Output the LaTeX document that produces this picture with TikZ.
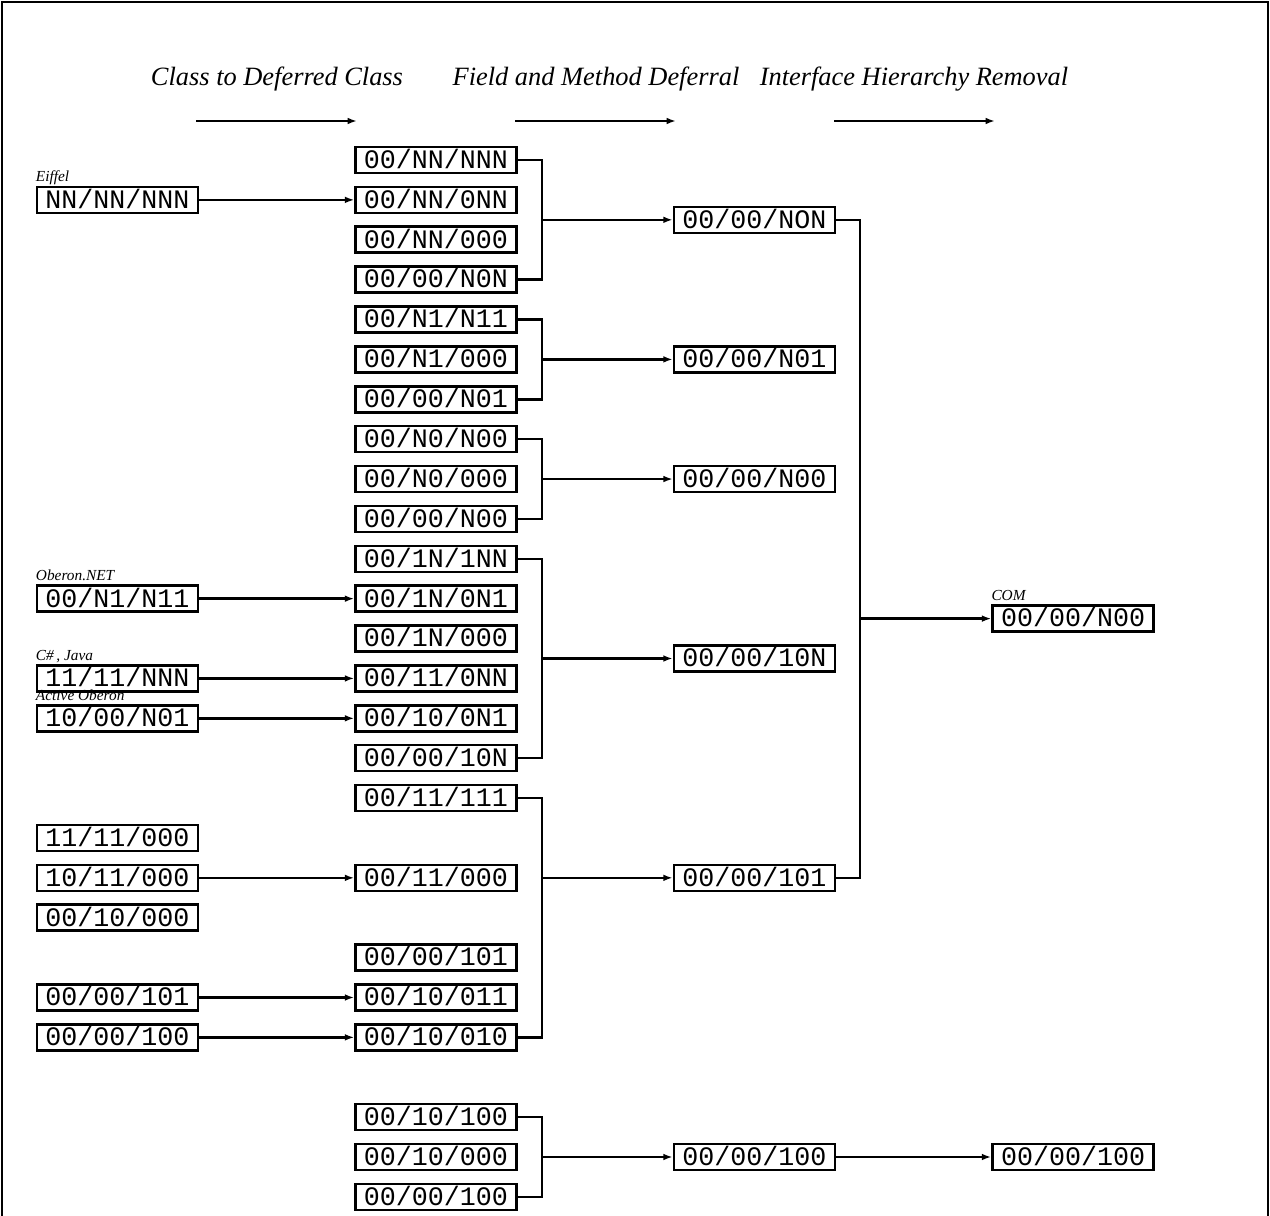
\documentclass[tikz,border=0pt]{standalone}
\usepackage{fontspec}
\setmainfont{Liberation Serif}
\newfontfamily\boxfont{Liberation Mono}
\usetikzlibrary{arrows.meta}
\tikzset{
  x=0.75pt, y=-0.75pt,
  cbox/.style={draw, line width=1.9pt, inner sep=0pt, minimum width=120.75pt, minimum height=19.5pt,
    text height=13pt, text depth=0.5pt,
    font=\boxfont\fontsize{20}{23}\selectfont},
  lab/.style={inner sep=0pt, anchor=base west, font=\itshape\fontsize{11.5}{13}\selectfont},
  head/.style={inner sep=0pt, anchor=base, font=\itshape\fontsize{19.8}{22}\selectfont},
  conn/.style={line width=1.9pt},
  arr/.style={line width=1.9pt, -{Latex[length=7pt,width=5pt]}},
  harr/.style={line width=1.4pt, -{Latex[length=7pt,width=5pt]}},
}
\newcommand{\rowy}[1]{160+39.88*#1}
\begin{document}
\begin{tikzpicture}
\useasboundingbox (0,0) rectangle (1270,1216);
\draw[line width=1.4pt] (2,1216) -- (2,2) -- (1268,2) -- (1268,1216);

% headers
\node[head] (h1) at (277,86) {Class to Deferred Class};
\node[head] (h2) at (596,86) {Field and Method Deferral};
\node[head] (h3) at (914,86) {Interface Hierarchy Removal};
\coordinate (ha1) at (196,121); \coordinate (hb1) at (357,121);
\coordinate (ha2) at (515,121); \coordinate (hb2) at (676,121);
\coordinate (ha3) at (834,121); \coordinate (hb3) at (995,121);
\draw[harr] (ha1) -- (hb1);
\draw[harr] (ha2) -- (hb2);
\draw[harr] (ha3) -- (hb3);

% column B
\foreach \i/\t in {0/{00/NN/NNN}, 1/{00/NN/0NN}, 2/{00/NN/000}, 3/{00/00/N0N},
  4/{00/N1/N11}, 5/{00/N1/000}, 6/{00/00/N01},
  7/{00/N0/N00}, 8/{00/N0/000}, 9/{00/00/N00},
  10/{00/1N/1NN}, 11/{00/1N/0N1}, 12/{00/1N/000}, 13/{00/11/0NN}, 14/{00/10/0N1}, 15/{00/00/10N},
  16/{00/11/111}, 18/{00/11/000}, 20/{00/00/101}, 21/{00/10/011}, 22/{00/10/010},
  24/{00/10/100}, 25/{00/10/000}, 26/{00/00/100}}
  {\node[cbox] (b\i) at (436,{\rowy{\i}}) {\t};}

% column A
\foreach \i/\t in {1/{NN/NN/NNN}, 11/{00/N1/N11}, 13/{11/11/NNN}, 14/{10/00/N01},
  17/{11/11/000}, 18/{10/11/000}, 19/{00/10/000}, 21/{00/00/101}, 22/{00/00/100}}
  {\node[cbox] (a\i) at (117.5,{\rowy{\i}}) {\t};}

% column C
\node[cbox] (c1) at (754.5,{\rowy{1.5}}) {00/00/NON};
\node[cbox] (c2) at (754.5,{\rowy{5}}) {00/00/N01};
\node[cbox] (c3) at (754.5,{\rowy{8}}) {00/00/N00};
\node[cbox] (c4) at (754.5,{\rowy{12.5}}) {00/00/10N};
\node[cbox] (c5) at (754.5,{\rowy{18}}) {00/00/101};
\node[cbox] (c6) at (754.5,{\rowy{25}}) {00/00/100};

% column D
\node[cbox] (d1) at (1073,{\rowy{11.5}}) {00/00/N00};
\node[cbox] (d2) at (1073,{\rowy{25}}) {00/00/100};

% labels
\node[lab] (l1) at ([yshift=3pt]a1.north west) {Eiffel};
\node[lab] (l2) at ([yshift=3pt]a11.north west) {Oberon.NET};
\node[lab] (l3) at ([yshift=3pt]a13.north west) {C\#\,, Java};
\node[lab] (l4) at ([yshift=2.5pt]a14.north west) {Active Oberon};
\node[lab] (l5) at ([yshift=3pt]d1.north west) {COM};

% A -> B
\foreach \i in {1,11,13,14,18,21,22}
  \draw[arr] (a\i.east) -- (b\i.west);

% brackets
\coordinate (k) at (542,0);
\coordinate (k2) at (860,0);
\draw[conn] (b0.east) -- (b0.east -| k) -- (b3.east -| k) -- (b3.east);
\draw[arr] (c1.west -| k) -- (c1.west);
\draw[conn] (b4.east) -- (b4.east -| k) -- (b6.east -| k) -- (b6.east);
\draw[arr] (c2.west -| k) -- (c2.west);
\draw[conn] (b7.east) -- (b7.east -| k) -- (b9.east -| k) -- (b9.east);
\draw[arr] (c3.west -| k) -- (c3.west);
\draw[conn] (b10.east) -- (b10.east -| k) -- (b15.east -| k) -- (b15.east);
\draw[arr] (c4.west -| k) -- (c4.west);
\draw[conn] (b16.east) -- (b16.east -| k) -- (b22.east -| k) -- (b22.east);
\draw[arr] (c5.west -| k) -- (c5.west);
\draw[conn] (b24.east) -- (b24.east -| k) -- (b26.east -| k) -- (b26.east);
\draw[arr] (c6.west -| k) -- (c6.west);

\draw[conn] (c1.east) -- (c1.east -| k2) -- (c5.east -| k2) -- (c5.east);
\draw[arr] (d1.west -| k2) -- (d1.west);
\draw[arr] (c6.east) -- (d2.west);
\end{tikzpicture}
\end{document}
